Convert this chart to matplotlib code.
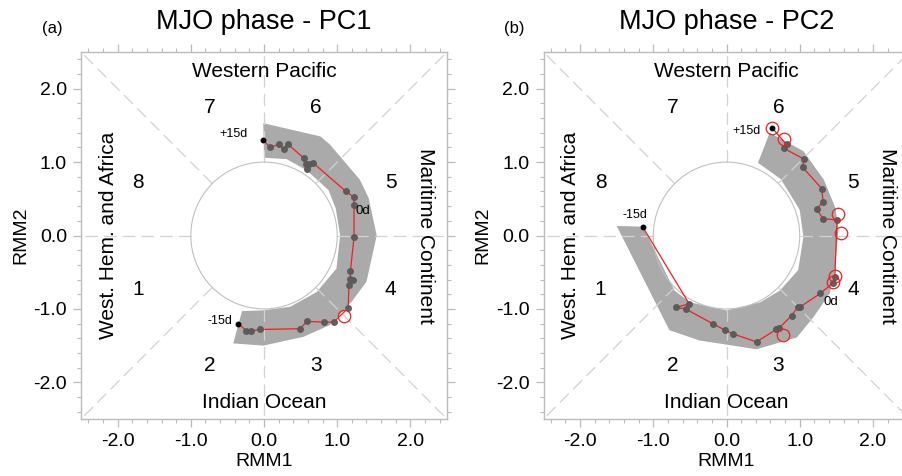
import numpy as np
import matplotlib
matplotlib.use("Agg")
import matplotlib.pyplot as plt
from matplotlib.patches import Circle, Polygon

plt.rcParams['font.family'] = ['Liberation Sans', 'DejaVu Sans']

# ---------------- data ----------------
titles = ["MJO phase - PC1", "MJO phase - PC2"]
panel_tags = ["(a)", "(b)"]
region_labels = ["Western Pacific", "Indian Ocean", "West. Hem. and Africa", "Maritime Continent"]
phase_labels = ["1", "2", "3", "4", "5", "6", "7", "8"]
tick_values = [-2.0, -1.0, 0.0, 1.0, 2.0]

# Panel (a) trajectory (-15d ... +15d)
traj_a_x = [-0.35, -0.24, -0.18, -0.05, 0.49, 0.59, 0.82, 0.95, 1.15, 1.16, 1.21, 1.18,
            1.18, 1.23, 1.23, 1.23, 1.12, 0.67, 0.62, 0.59, 0.57, 0.55, 0.33, 0.27,
            0.20, 0.08, -0.01]
traj_a_y = [-1.20, -1.30, -1.30, -1.28, -1.27, -1.17, -1.18, -1.18, -0.99, -0.68, -0.60, -0.59,
            -0.49, -0.02, 0.41, 0.52, 0.60, 0.99, 0.97, 0.90, 0.98, 1.05, 1.24, 1.18,
            1.24, 1.20, 1.30]
sig_a_x = [1.09]
sig_a_y = [-1.09]
band_a_x = [-0.42, -0.01, 0.54, 0.90, 1.20, 1.40, 1.54, 1.43, 1.31, 0.90, 0.77, -0.01,
            0.00, 0.31, 0.58, 0.88, 0.98, 1.04, 0.99, 0.72, 0.36, -0.01, -0.30]
band_a_y = [-1.47, -1.50, -1.38, -1.22, -0.90, -0.63, 0.00, 0.51, 0.76, 1.24, 1.35, 1.53,
            1.06, 1.04, 0.89, 0.62, 0.37, 0.00, -0.45, -0.77, -0.97, -1.02, -1.03]

# Panel (b) trajectory (-15d ... +15d)
traj_b_x = [-1.14, -0.51, -0.69, -0.56, -0.19, -0.02, 0.09, 0.41, 0.68, 0.72, 0.89, 0.98,
            1.01, 1.28, 1.45, 1.48, 1.51, 1.32, 1.23, 1.32, 1.30, 1.04, 1.06, 0.78,
            0.82, 0.62]
traj_b_y = [0.11, -0.93, -0.98, -1.00, -1.20, -1.29, -1.34, -1.45, -1.28, -1.26, -1.09, -0.97,
            -0.97, -0.79, -0.65, -0.56, 0.21, 0.23, 0.36, 0.46, 0.64, 0.93, 1.04, 1.19,
            1.24, 1.47]
sig_b_x = [0.77, 1.46, 1.48, 1.57, 1.52, 0.78, 0.62]
sig_b_y = [-1.35, -0.63, -0.55, 0.04, 0.29, 1.32, 1.47]
band_b_x = [-1.50, -0.78, -0.37, 0.41, 0.96, 1.19, 1.41, 1.48, 1.53, 1.49, 1.33, 1.05, 0.68,
            0.59, 0.43, 0.74, 1.00, 1.05, 0.98, 0.73, 0.46, 0.00, -0.50, -0.71, -1.14]
band_b_y = [0.13, -1.29, -1.43, -1.55, -1.39, -1.11, -0.79, -0.47, 0.08, 0.37, 0.76, 1.15, 1.35,
            1.40, 0.99, 0.77, 0.35, -0.02, -0.47, -0.75, -0.91, -1.02, -0.91, -0.75, 0.12]

panels = [
    dict(tx=traj_a_x, ty=traj_a_y, sx=sig_a_x, sy=sig_a_y, bx=band_a_x, by=band_a_y,
         lab_m15=(-0.60, -1.17), lab_p15=(-0.42, 1.38), lab0=(1.35, 0.33)),
    dict(tx=traj_b_x, ty=traj_b_y, sx=sig_b_x, sy=sig_b_y, bx=band_b_x, by=band_b_y,
         lab_m15=(-1.25, 0.28), lab_p15=(0.27, 1.42), lab0=(1.43, -0.90)),
]

# ---------------- figure ----------------
W, H = 902, 476
fig = plt.figure(figsize=(W / 100, H / 100), dpi=100)
lefts = [81, 543.5]
axw, axh = 366, 367
bottom = 57

gray_line = '#d2d2d2'
spine_c = '#bcbcbc'
band_c = '#aaaaaa'

for i, p in enumerate(panels):
    ax = fig.add_axes([lefts[i] / W, bottom / H, axw / W, axh / H])
    ax.set_xlim(-2.5, 2.5)
    ax.set_ylim(-2.5, 2.5)

    # band
    ax.add_patch(Polygon(np.column_stack([p['bx'], p['by']]), closed=True,
                         facecolor=band_c, edgecolor='none', zorder=2))
    # dashed phase lines, outside unit circle
    dash = dict(color=gray_line, lw=0.9, ls=(0, (10, 5)), zorder=3)
    ax.plot([0, 0], [1, 2.5], **dash)
    ax.plot([0, 0], [-1, -2.5], **dash)
    ax.plot([1, 2.5], [0, 0], **dash)
    ax.plot([-1, -2.5], [0, 0], **dash)
    r = 1 / np.sqrt(2)
    for sx_, sy_ in [(1, 1), (1, -1), (-1, 1), (-1, -1)]:
        ax.plot([sx_ * r, sx_ * 2.5], [sy_ * r, sy_ * 2.5], **dash)
    # unit circle
    ax.add_patch(Circle((0, 0), 1.0, facecolor='none', edgecolor='#c0c0c0', lw=0.8, zorder=4))

    # trajectory
    ax.plot(p['tx'], p['ty'], color='#ee2020', lw=0.9, zorder=5)
    ax.plot(p['tx'][1:-1], p['ty'][1:-1], ls='none', marker='o', ms=4.0,
            mfc='#5a5a5a', mec='#5a5a5a', alpha=0.95, zorder=6)
    ax.plot([p['tx'][0], p['tx'][-1]], [p['ty'][0], p['ty'][-1]], ls='none', marker='o',
            ms=3.2, mfc='black', mec='black', zorder=7)
    ax.plot(p['sx'], p['sy'], ls='none', marker='o', ms=9, mfc='none', mec='#ee2020',
            mew=0.9, zorder=7)

    ax.text(*p['lab_m15'], "-15d", fontsize=9, ha='center', va='center', zorder=8)
    ax.text(*p['lab_p15'], "+15d", fontsize=9, ha='center', va='center', zorder=8)
    ax.text(*p['lab0'], "0d", fontsize=9.5, ha='center', va='center', zorder=8)

    # region labels
    ax.text(0, 2.23, region_labels[0], fontsize=15, ha='center', va='center')
    ax.text(0, -2.27, region_labels[1], fontsize=15, ha='center', va='center')
    ax.text(-2.13, 0, region_labels[2], fontsize=15, ha='center', va='center', rotation=90)
    ax.text(2.2, 0, region_labels[3], fontsize=15, ha='center', va='center', rotation=-90)
    # phase numbers
    pos = [(-1.72, -0.74), (-0.74, -1.77), (0.71, -1.77), (1.73, -0.74),
           (1.73, 0.72), (0.71, 1.74), (-0.74, 1.74), (-1.72, 0.72)]
    for lab, (px, py) in zip(phase_labels, pos):
        ax.text(px, py, lab, fontsize=15, ha='center', va='center')

    # ticks
    ax.set_xticks(tick_values)
    ax.set_yticks(tick_values)
    ax.set_xticklabels([f"{v:.1f}" for v in tick_values])
    ax.set_yticklabels([f"{v:.1f}" for v in tick_values])
    ax.set_xticks(np.arange(-2.4, 2.41, 0.2), minor=True)
    ax.set_yticks(np.arange(-2.4, 2.41, 0.2), minor=True)
    ax.tick_params(which='both', direction='out', color=spine_c, top=True, right=True,
                   labelsize=14, pad=4)
    ax.tick_params(which='major', length=6, width=0.9)
    ax.tick_params(which='minor', length=3, width=0.8)
    for s in ax.spines.values():
        s.set_color(spine_c)
        s.set_linewidth(1.0)
    ax.set_xlabel("RMM1", fontsize=14, labelpad=2)
    ax.set_ylabel("RMM2", fontsize=14, labelpad=3)

    cx = (lefts[i] + axw / 2) / W
    fig.text(cx, 1 - 22 / H, titles[i], fontsize=19.5, ha='center', va='center')
    fig.text((lefts[i] - 29) / W, 1 - 28 / H, panel_tags[i], fontsize=12, ha='center', va='center')

fig.savefig("out.png", dpi=100)
